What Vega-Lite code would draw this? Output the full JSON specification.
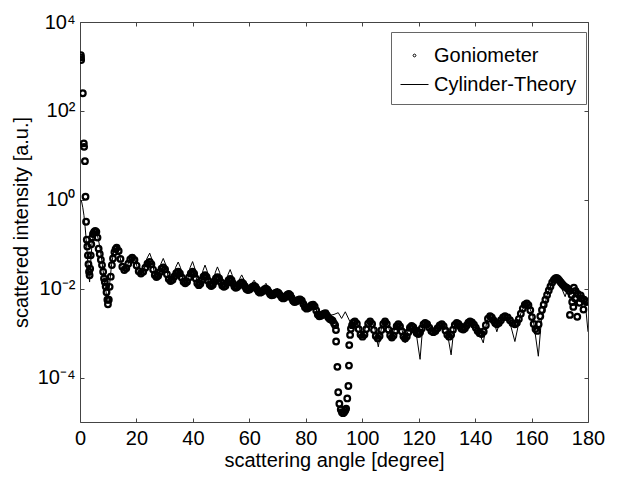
{
  "$schema": "https://vega.github.io/schema/vega-lite/v6.json",
  "width": 508,
  "height": 400,
  "autosize": {"type": "none"},
  "padding": {"left": 80, "top": 22, "right": 30, "bottom": 57},
  "background": "white",
  "config": {
    "font": "Liberation Sans",
    "view": {"stroke": "#444", "strokeWidth": 1},
    "axis": {
      "labelFont": "Liberation Sans", "titleFont": "Liberation Sans",
      "labelFontSize": 20, "titleFontSize": 20, "titleFontWeight": "normal",
      "labelColor": "black", "titleColor": "black", "grid": false, "domain": false,
      "tickColor": "#444", "tickSize": -4, "labelFlush": false, "labelOverlap": false
    }
  },
  "datasets": {
    "theory": [
      {"angle":0.2,"intensity":1.0},{"angle":0.6,"intensity":0.891},{"angle":1.0,"intensity":0.661},{"angle":1.4,"intensity":0.447},{"angle":1.8,"intensity":0.251},{"angle":2.2,"intensity":0.126},{"angle":2.6,"intensity":0.0562},{"angle":3.0,"intensity":0.0251},{"angle":3.4,"intensity":0.0141},{"angle":3.8,"intensity":0.0398},{"angle":4.3,"intensity":0.112},{"angle":4.8,"intensity":0.166},{"angle":5.5,"intensity":0.191},{"angle":6.2,"intensity":0.158},{"angle":7.0,"intensity":0.0891},{"angle":7.8,"intensity":0.0398},{"angle":8.6,"intensity":0.0158},{"angle":9.3,"intensity":0.00794},{"angle":9.9,"intensity":0.00562},{"angle":10.5,"intensity":0.0126},{"angle":11.2,"intensity":0.0355},{"angle":12.0,"intensity":0.0708},
      {"angle":13.0,"intensity":0.0871},{"angle":13.9,"intensity":0.0631},{"angle":14.8,"intensity":0.0331},{"angle":15.7,"intensity":0.024},{"angle":16.63,"intensity":0.0299},{"angle":17.57,"intensity":0.0462},{"angle":18.5,"intensity":0.0575},{"angle":19.53,"intensity":0.0442},{"angle":20.57,"intensity":0.026},{"angle":21.6,"intensity":0.02},{"angle":22.63,"intensity":0.0266},{"angle":23.67,"intensity":0.0473},{"angle":24.7,"intensity":0.0631},{"angle":25.5,"intensity":0.0452},{"angle":26.3,"intensity":0.0232},{"angle":27.1,"intensity":0.0166},{"angle":27.9,"intensity":0.0216},{"angle":28.7,"intensity":0.0367},{"angle":29.5,"intensity":0.0479},{"angle":30.37,"intensity":0.0348},{"angle":31.23,"intensity":0.0185},{"angle":32.1,"intensity":0.0135},{"angle":33.0,"intensity":0.0177},{"angle":33.9,"intensity":0.0303},{"angle":34.8,"intensity":0.0398},{"angle":35.63,"intensity":0.0295},{"angle":36.47,"intensity":0.0162},{"angle":37.3,"intensity":0.012},{"angle":38.17,"intensity":0.0163},{"angle":39.03,"intensity":0.03},{"angle":39.9,"intensity":0.0407},{"angle":40.63,"intensity":0.0293},{"angle":41.37,"intensity":0.0152},{"angle":42.1,"intensity":0.011},{"angle":42.83,"intensity":0.0145},{"angle":43.57,"intensity":0.0255},{"angle":44.3,"intensity":0.0339},{"angle":45.03,"intensity":0.0252},{"angle":45.77,"intensity":0.014},{"angle":46.5,"intensity":0.0105},{"angle":47.23,"intensity":0.0137},{"angle":47.97,"intensity":0.0235},{"angle":48.7,"intensity":0.0309},{"angle":49.47,"intensity":0.0233},{"angle":50.23,"intensity":0.0132},{"angle":51.0,"intensity":0.01},{"angle":51.73,"intensity":0.0128},{"angle":52.47,"intensity":0.021},{"angle":53.2,"intensity":0.0269},{"angle":53.87,"intensity":0.0207},{"angle":54.53,"intensity":0.0124},{"angle":55.2,"intensity":0.00955},{"angle":55.9,"intensity":0.0115},{"angle":56.6,"intensity":0.0169},{"angle":57.3,"intensity":0.0204},{"angle":58.03,"intensity":0.0164},{"angle":58.77,"intensity":0.0106},{"angle":59.5,"intensity":0.00851},{"angle":60.23,"intensity":0.00989},{"angle":60.97,"intensity":0.0133},{"angle":61.7,"intensity":0.0155},{"angle":62.4,"intensity":0.0129},{"angle":63.1,"intensity":0.00891},{"angle":63.8,"intensity":0.00741},{"angle":64.5,"intensity":0.00855},{"angle":65.2,"intensity":0.0114},{"angle":65.9,"intensity":0.0132},{"angle":66.57,"intensity":0.011},{"angle":67.23,"intensity":0.00771},{"angle":67.9,"intensity":0.00646},{"angle":68.57,"intensity":0.00724},{"angle":69.23,"intensity":0.00912},{"angle":69.9,"intensity":0.0102},{"angle":70.6,"intensity":0.00875},{"angle":71.3,"intensity":0.00641},{"angle":72.0,"intensity":0.0055},{"angle":72.67,"intensity":0.00619},{"angle":73.33,"intensity":0.00789},{"angle":74.0,"intensity":0.00891},{"angle":74.67,"intensity":0.00753},{"angle":75.33,"intensity":0.0054},{"angle":76.0,"intensity":0.00457},{"angle":76.67,"intensity":0.00501},{"angle":77.33,"intensity":0.00603},{"angle":78.0,"intensity":0.00661},{"angle":78.77,"intensity":0.00556},{"angle":79.53,"intensity":0.00394},{"angle":80.3,"intensity":0.00331},{"angle":81.07,"intensity":0.00367},{"angle":81.83,"intensity":0.00452},{"angle":82.6,"intensity":0.00501},{"angle":83.33,"intensity":0.00412},{"angle":84.07,"intensity":0.00279},{"angle":84.8,"intensity":0.00229},{"angle":85.53,"intensity":0.00248},{"angle":86.27,"intensity":0.00292},{"angle":87.0,"intensity":0.00316},{"angle":88.6,"intensity":0.00251},{"angle":90.0,"intensity":0.00263},{"angle":91.5,"intensity":0.00288},{"angle":92.7,"intensity":0.00214},{"angle":94.0,"intensity":0.00302},{"angle":95.7,"intensity":0.00178},
      {"angle":97.4,"intensity":0.002},{"angle":98.8,"intensity":0.00141},{"angle":100.1,"intensity":0.000759},{"angle":101.4,"intensity":0.00151},{"angle":102.8,"intensity":0.002},{"angle":104.3,"intensity":0.00141},{"angle":105.7,"intensity":0.00049},{"angle":106.9,"intensity":0.00141},{"angle":108.1,"intensity":0.002},{"angle":109.3,"intensity":0.00141},{"angle":110.5,"intensity":0.000708},{"angle":111.7,"intensity":0.00141},{"angle":112.8,"intensity":0.00174},{"angle":114.0,"intensity":0.00126},{"angle":115.2,"intensity":0.000603},{"angle":116.4,"intensity":0.00126},{"angle":117.5,"intensity":0.00158},{"angle":119.0,"intensity":0.00112},{"angle":120.5,"intensity":0.000257},{"angle":121.4,"intensity":0.00132},{"angle":122.3,"intensity":0.00186},{"angle":123.8,"intensity":0.00151},{"angle":125.2,"intensity":0.000891},{"angle":126.7,"intensity":0.00151},{"angle":128.2,"intensity":0.00174},{"angle":129.9,"intensity":0.00126},{"angle":131.5,"intensity":0.000324},{"angle":132.5,"intensity":0.00132},{"angle":133.5,"intensity":0.00186},{"angle":134.7,"intensity":0.00158},{"angle":135.8,"intensity":0.00107},{"angle":137.0,"intensity":0.00166},{"angle":138.2,"intensity":0.002},{"angle":140.5,"intensity":0.00141},{"angle":142.9,"intensity":0.000603},{"angle":144.1,"intensity":0.00178},{"angle":145.3,"intensity":0.00251},{"angle":146.5,"intensity":0.002},{"angle":147.7,"intensity":0.00107},{"angle":149.1,"intensity":0.00209},{"angle":150.6,"intensity":0.00251},{"angle":152.4,"intensity":0.00166},{"angle":154.1,"intensity":0.000646},{"angle":156.2,"intensity":0.00282},{"angle":158.3,"intensity":0.00525},{"angle":160.4,"intensity":0.00251},{"angle":162.4,"intensity":0.000302},{"angle":163.5,"intensity":0.002},{"angle":165.5,"intensity":0.00708},{"angle":167.3,"intensity":0.0141},{"angle":168.9,"intensity":0.0191},{"angle":170.4,"intensity":0.0112},{"angle":171.9,"intensity":0.00661},{"angle":173.0,"intensity":0.0112},{"angle":174.5,"intensity":0.01},{"angle":176.0,"intensity":0.00794},{"angle":178.4,"intensity":0.00631},{"angle":179.3,"intensity":0.00316},{"angle":180.0,"intensity":0.00107}
    ],
    "gon": [
      {"angle":0.3,"intensity":1800},{"angle":0.35,"intensity":1600},{"angle":0.4,"intensity":1400},{"angle":1.0,"intensity":250},{"angle":1.35,"intensity":18.6},{"angle":1.45,"intensity":15.5},{"angle":1.75,"intensity":7.4},{"angle":1.95,"intensity":1.17},{"angle":2.15,"intensity":0.32},{"angle":2.4,"intensity":0.126},{"angle":2.6,"intensity":0.0891},{"angle":2.8,"intensity":0.0562},{"angle":3.0,"intensity":0.0355},{"angle":3.2,"intensity":0.024},{"angle":3.4,"intensity":0.02},{"angle":3.6,"intensity":0.0282},{"angle":3.8,"intensity":0.0562},{"angle":4.0,"intensity":0.1},{"angle":4.3,"intensity":0.141},{"angle":4.6,"intensity":0.17},{"angle":5.0,"intensity":0.19},{"angle":5.4,"intensity":0.2},{"angle":5.8,"intensity":0.19},{"angle":6.2,"intensity":0.141},{"angle":6.6,"intensity":0.0794},{"angle":7.0,"intensity":0.0603},{"angle":7.4,"intensity":0.0447},{"angle":7.8,"intensity":0.0339},{"angle":8.2,"intensity":0.024},{"angle":8.5,"intensity":0.017},{"angle":8.8,"intensity":0.0141},{"angle":9.1,"intensity":0.0112},{"angle":9.4,"intensity":0.00832},{"angle":9.7,"intensity":0.00562},{"angle":9.9,"intensity":0.00447},{"angle":10.2,"intensity":0.00562},{"angle":10.5,"intensity":0.011},{"angle":10.9,"intensity":0.0186},{"angle":11.3,"intensity":0.0339},{"angle":11.7,"intensity":0.0479},{"angle":12.2,"intensity":0.0661},{"angle":12.6,"intensity":0.0776},
      {"angle":13.0,"intensity":0.0832},{"angle":13.7,"intensity":0.0703},{"angle":14.35,"intensity":0.0468},{"angle":15.0,"intensity":0.0311},{"angle":15.7,"intensity":0.0263},{"angle":16.4,"intensity":0.0289},{"angle":17.1,"intensity":0.0363},{"angle":17.8,"intensity":0.0456},{"angle":18.5,"intensity":0.0501},{"angle":19.3,"intensity":0.0444},{"angle":20.05,"intensity":0.0331},{"angle":20.8,"intensity":0.0247},{"angle":21.6,"intensity":0.0219},{"angle":22.4,"intensity":0.0239},{"angle":23.15,"intensity":0.0295},{"angle":23.9,"intensity":0.0365},{"angle":24.7,"intensity":0.0398},{"angle":25.3,"intensity":0.0355},{"angle":25.9,"intensity":0.0269},{"angle":26.5,"intensity":0.0204},{"angle":27.1,"intensity":0.0182},{"angle":27.7,"intensity":0.0196},{"angle":28.3,"intensity":0.0234},{"angle":28.9,"intensity":0.0281},{"angle":29.5,"intensity":0.0302},{"angle":30.15,"intensity":0.0272},{"angle":30.8,"intensity":0.0211},{"angle":31.45,"intensity":0.0164},{"angle":32.1,"intensity":0.0148},{"angle":32.8,"intensity":0.0159},{"angle":33.45,"intensity":0.0188},{"angle":34.1,"intensity":0.0223},{"angle":34.8,"intensity":0.024},{"angle":35.4,"intensity":0.022},{"angle":36.05,"intensity":0.0178},{"angle":36.7,"intensity":0.0144},{"angle":37.3,"intensity":0.0132},{"angle":37.95,"intensity":0.0144},{"angle":38.6,"intensity":0.0178},{"angle":39.25,"intensity":0.022},{"angle":39.9,"intensity":0.024},{"angle":40.45,"intensity":0.0217},{"angle":41.0,"intensity":0.017},{"angle":41.55,"intensity":0.0133},{"angle":42.1,"intensity":0.012},{"angle":42.65,"intensity":0.0129},{"angle":43.2,"intensity":0.0155},{"angle":43.75,"intensity":0.0185},{"angle":44.3,"intensity":0.02},{"angle":44.85,"intensity":0.0184},{"angle":45.4,"intensity":0.0151},{"angle":45.95,"intensity":0.0124},{"angle":46.5,"intensity":0.0115},{"angle":47.05,"intensity":0.0123},{"angle":47.6,"intensity":0.0145},{"angle":48.15,"intensity":0.017},{"angle":48.7,"intensity":0.0182},{"angle":49.3,"intensity":0.0169},{"angle":49.85,"intensity":0.0141},{"angle":50.4,"intensity":0.0118},{"angle":51.0,"intensity":0.011},{"angle":51.55,"intensity":0.0116},{"angle":52.1,"intensity":0.0135},{"angle":52.65,"intensity":0.0156},{"angle":53.2,"intensity":0.0166},{"angle":53.7,"intensity":0.0155},{"angle":54.2,"intensity":0.0132},{"angle":54.7,"intensity":0.0112},{"angle":55.2,"intensity":0.0105},{"angle":55.7,"intensity":0.0109},{"angle":56.25,"intensity":0.012},{"angle":56.8,"intensity":0.0132},{"angle":57.3,"intensity":0.0138},{"angle":57.85,"intensity":0.013},{"angle":58.4,"intensity":0.0114},{"angle":58.95,"intensity":0.00989},{"angle":59.5,"intensity":0.00933},{"angle":60.05,"intensity":0.00962},{"angle":60.6,"intensity":0.0104},{"angle":61.15,"intensity":0.0111},{"angle":61.7,"intensity":0.0115},{"angle":62.2,"intensity":0.0109},{"angle":62.75,"intensity":0.00966},{"angle":63.3,"intensity":0.00855},{"angle":63.8,"intensity":0.00813},{"angle":64.3,"intensity":0.00838},{"angle":64.85,"intensity":0.00902},{"angle":65.4,"intensity":0.0097},{"angle":65.9,"intensity":0.01},{"angle":66.4,"intensity":0.00951},{"angle":66.9,"intensity":0.00841},{"angle":67.4,"intensity":0.00745},{"angle":67.9,"intensity":0.00708},{"angle":68.4,"intensity":0.00724},{"angle":68.9,"intensity":0.00767},{"angle":69.4,"intensity":0.00813},{"angle":69.9,"intensity":0.00832},{"angle":70.4,"intensity":0.00794},{"angle":70.95,"intensity":0.00708},{"angle":71.5,"intensity":0.00631},{"angle":72.0,"intensity":0.00603},{"angle":72.5,"intensity":0.00624},{"angle":73.0,"intensity":0.00676},{"angle":73.5,"intensity":0.00733},{"angle":74.0,"intensity":0.00759},{"angle":74.5,"intensity":0.00715},{"angle":75.0,"intensity":0.00617},{"angle":75.5,"intensity":0.00532},{"angle":76.0,"intensity":0.00501},{"angle":76.5,"intensity":0.00512},{"angle":77.0,"intensity":0.00537},{"angle":77.5,"intensity":0.00564},{"angle":78.0,"intensity":0.00575},{"angle":78.6,"intensity":0.00536},{"angle":79.15,"intensity":0.00452},{"angle":79.7,"intensity":0.00381},{"angle":80.3,"intensity":0.00355},{"angle":80.9,"intensity":0.00366},{"angle":81.45,"intensity":0.00394},{"angle":82.0,"intensity":0.00424},{"angle":82.6,"intensity":0.00437},{"angle":83.15,"intensity":0.004},{"angle":83.7,"intensity":0.00324},{"angle":84.25,"intensity":0.00262},{"angle":84.8,"intensity":0.0024},{"angle":85.35,"intensity":0.00245},{"angle":85.9,"intensity":0.0026},{"angle":86.45,"intensity":0.00275},{"angle":87.0,"intensity":0.00282},{"angle":87.5,"intensity":0.00251},{"angle":88.0,"intensity":0.00224},{"angle":88.5,"intensity":0.00209},{"angle":89.0,"intensity":0.002},{"angle":89.5,"intensity":0.00191},{"angle":90.0,"intensity":0.00166},{"angle":90.4,"intensity":0.00151},{"angle":90.7,"intensity":0.00117},{"angle":90.75,"intensity":0.000646},{"angle":91.2,"intensity":0.000174},{"angle":91.5,"intensity":0.0000468},{"angle":91.9,"intensity":0.0000257},{"angle":92.4,"intensity":0.0000191},{"angle":92.8,"intensity":0.0000166},{"angle":93.2,"intensity":0.0000158},{"angle":93.6,"intensity":0.0000166},{"angle":94.0,"intensity":0.0000182},{"angle":94.3,"intensity":0.00002},{"angle":94.7,"intensity":0.0000339},{"angle":95.1,"intensity":0.0000646},{"angle":95.3,"intensity":0.000186},{"angle":95.4,"intensity":0.000537},{"angle":95.7,"intensity":0.000912},{"angle":96.0,"intensity":0.00126},{"angle":96.4,"intensity":0.00151},{"angle":96.9,"intensity":0.00174},
      {"angle":97.4,"intensity":0.00182},{"angle":98.1,"intensity":0.00162},{"angle":98.75,"intensity":0.00123},{"angle":99.4,"intensity":0.000933},{"angle":100.1,"intensity":0.000832},{"angle":100.8,"intensity":0.000933},{"angle":101.45,"intensity":0.00123},{"angle":102.1,"intensity":0.00162},{"angle":102.8,"intensity":0.00182},{"angle":103.5,"intensity":0.0016},{"angle":104.15,"intensity":0.00117},{"angle":104.8,"intensity":0.000861},{"angle":105.5,"intensity":0.000759},{"angle":106.15,"intensity":0.000861},{"angle":106.8,"intensity":0.00117},{"angle":107.45,"intensity":0.0016},{"angle":108.1,"intensity":0.00182},{"angle":108.7,"intensity":0.00161},{"angle":109.3,"intensity":0.0012},{"angle":109.9,"intensity":0.000897},{"angle":110.5,"intensity":0.000794},{"angle":111.1,"intensity":0.000879},{"angle":111.65,"intensity":0.00112},{"angle":112.2,"intensity":0.00143},{"angle":112.8,"intensity":0.00158},{"angle":113.4,"intensity":0.00142},{"angle":114.0,"intensity":0.0011},{"angle":114.6,"intensity":0.000845},{"angle":115.2,"intensity":0.000759},{"angle":115.8,"intensity":0.000834},{"angle":116.35,"intensity":0.00105},{"angle":116.9,"intensity":0.00132},{"angle":117.5,"intensity":0.00145},{"angle":118.1,"intensity":0.00136},{"angle":118.7,"intensity":0.00117},{"angle":119.3,"intensity":0.00101},{"angle":119.9,"intensity":0.000955},{"angle":120.5,"intensity":0.00104},{"angle":121.1,"intensity":0.00127},{"angle":121.7,"intensity":0.00156},{"angle":122.3,"intensity":0.0017},{"angle":123.0,"intensity":0.00158},{"angle":123.75,"intensity":0.00133},{"angle":124.5,"intensity":0.00112},{"angle":125.2,"intensity":0.00105},{"angle":125.95,"intensity":0.00111},{"angle":126.7,"intensity":0.00129},{"angle":127.45,"intensity":0.00149},{"angle":128.2,"intensity":0.00158},{"angle":128.85,"intensity":0.00144},{"angle":129.5,"intensity":0.00115},{"angle":130.15,"intensity":0.000914},{"angle":130.8,"intensity":0.000832},{"angle":131.5,"intensity":0.000923},{"angle":132.15,"intensity":0.00119},{"angle":132.8,"intensity":0.00153},{"angle":133.5,"intensity":0.0017},{"angle":134.1,"intensity":0.00161},{"angle":134.65,"intensity":0.00143},{"angle":135.2,"intensity":0.00126},{"angle":135.8,"intensity":0.0012},{"angle":136.4,"intensity":0.00128},{"angle":137.0,"intensity":0.00148},{"angle":137.6,"intensity":0.00171},{"angle":138.2,"intensity":0.00182},{"angle":138.9,"intensity":0.00174},{"angle":139.6,"intensity":0.00155},{"angle":140.25,"intensity":0.00132},{"angle":140.9,"intensity":0.00112},{"angle":141.6,"intensity":0.000998},{"angle":142.3,"intensity":0.000955},{"angle":143.05,"intensity":0.00109},{"angle":143.8,"intensity":0.00151},{"angle":144.55,"intensity":0.0021},{"angle":145.3,"intensity":0.0024},{"angle":145.9,"intensity":0.00226},{"angle":146.5,"intensity":0.00195},{"angle":147.1,"intensity":0.00168},{"angle":147.7,"intensity":0.00158},{"angle":148.4,"intensity":0.00168},{"angle":149.15,"intensity":0.00195},{"angle":149.9,"intensity":0.00226},{"angle":150.6,"intensity":0.0024},{"angle":151.5,"intensity":0.00226},{"angle":152.35,"intensity":0.00195},{"angle":153.2,"intensity":0.00168},{"angle":154.1,"intensity":0.00158},{"angle":154.8,"intensity":0.0017},{"angle":155.5,"intensity":0.00207},{"angle":156.2,"intensity":0.00272},{"angle":156.9,"intensity":0.00356},{"angle":157.6,"intensity":0.00436},{"angle":158.3,"intensity":0.00468},{"angle":158.9,"intensity":0.00426},{"angle":159.55,"intensity":0.00327},{"angle":160.15,"intensity":0.00229},{"angle":160.75,"intensity":0.0016},{"angle":161.4,"intensity":0.00123},{"angle":162.0,"intensity":0.00112},{"angle":162.5,"intensity":0.00158},{"angle":163.1,"intensity":0.0024},{"angle":163.7,"intensity":0.00331},{"angle":164.3,"intensity":0.00437},{"angle":164.9,"intensity":0.00562},{"angle":165.5,"intensity":0.00724},{"angle":166.1,"intensity":0.00912},{"angle":166.7,"intensity":0.0112},{"angle":167.3,"intensity":0.0138},{"angle":167.9,"intensity":0.0158},{"angle":168.4,"intensity":0.017},{"angle":168.9,"intensity":0.0174},{"angle":169.4,"intensity":0.0166},{"angle":169.9,"intensity":0.0151},{"angle":170.4,"intensity":0.0138},{"angle":170.9,"intensity":0.0126},{"angle":171.4,"intensity":0.0117},{"angle":171.9,"intensity":0.011},{"angle":172.4,"intensity":0.0105},{"angle":172.9,"intensity":0.01},
      {"angle":173.4,"intensity":0.00891},{"angle":173.6,"intensity":0.00257},{"angle":174.2,"intensity":0.00724},{"angle":174.4,"intensity":0.00501},{"angle":174.8,"intensity":0.00389},{"angle":175.0,"intensity":0.0105},{"angle":175.4,"intensity":0.00603},{"angle":175.6,"intensity":0.00891},{"angle":176.2,"intensity":0.00234},{"angle":176.4,"intensity":0.00759},{"angle":177.0,"intensity":0.00479},{"angle":177.4,"intensity":0.00708},{"angle":177.8,"intensity":0.00603},{"angle":178.4,"intensity":0.00339},{"angle":178.6,"intensity":0.00562},{"angle":179.2,"intensity":0.00525},{"angle":179.5,"intensity":0.00501}
    ]
  },
  "layer": [
    {
      "data": {"name": "theory"},
      "mark": {"type": "line", "strokeWidth": 1, "clip": true},
      "encoding": {
        "x": {"field": "angle", "type": "quantitative", "scale": {"domain": [0, 180], "nice": false},
              "axis": {"orient": "bottom", "values": [0,20,40,60,80,100,120,140,160,180], "format": "d", "title": "scattering angle [degree]", "labelPadding": 10, "titlePadding": 2}},
        "y": {"field": "intensity", "type": "quantitative", "scale": {"type": "log", "domain": [0.00001, 10000], "nice": false},
              "axis": {"orient": "left", "values": [0.0001, 0.01, 1, 100, 10000], "title": "scattered intensity [a.u.]", "labelPadding": 9, "titlePadding": 6,
                       "labelExpr": "datum.value > 1000 ? '10⁴' : datum.value > 10 ? '10²' : datum.value > 0.1 ? '10⁰' : datum.value > 0.001 ? '10⁻²' : '10⁻⁴'"}},
        "color": {"datum": "Cylinder-Theory", "type": "nominal",
                  "scale": {"domain": ["Goniometer", "Cylinder-Theory"], "range": ["black", "black"]},
                  "legend": {
                    "orient": "none", "legendX": 311, "legendY": 10, "title": null,
                    "labelFont": "Liberation Sans", "labelFontSize": 20, "labelColor": "black",
                    "padding": 9, "strokeColor": "#666", "fillColor": "white",
                    "symbolSize": 784, "symbolType": "M-1,0H1", "symbolStrokeWidth": 1,
                    "symbolStrokeColor": "black", "symbolFillColor": "transparent",
                    "labelOffset": 5, "rowPadding": 4,
                    "encode": {"symbols": {"update": {
                      "shape": {"signal": "datum.value === 'Goniometer' ? 'M-0.1,0a0.1,0.1 0 1,0 0.2,0a0.1,0.1 0 1,0 -0.2,0' : 'M-1,0H1'"},
                      "stroke": {"value": "black"}, "fill": {"value": "transparent"}, "strokeWidth": {"value": 1}, "opacity": {"value": 1}
                    }}}
                  }}
      }
    },
    {
      "data": {"name": "gon"},
      "mark": {"type": "point", "shape": "circle", "filled": false, "size": 32, "strokeWidth": 2.2, "opacity": 1, "clip": true},
      "encoding": {
        "x": {"field": "angle", "type": "quantitative",
              "axis": {"orient": "top", "values": [0,20,40,60,80,100,120,140,160,180], "labels": false, "title": null}},
        "y": {"field": "intensity", "type": "quantitative",
              "axis": {"orient": "right", "values": [0.0001, 0.01, 1, 100, 10000], "labels": false, "title": null}},
        "color": {"datum": "Goniometer", "type": "nominal"}
      }
    }
  ],
  "resolve": {"axis": {"x": "independent", "y": "independent"}}
}
